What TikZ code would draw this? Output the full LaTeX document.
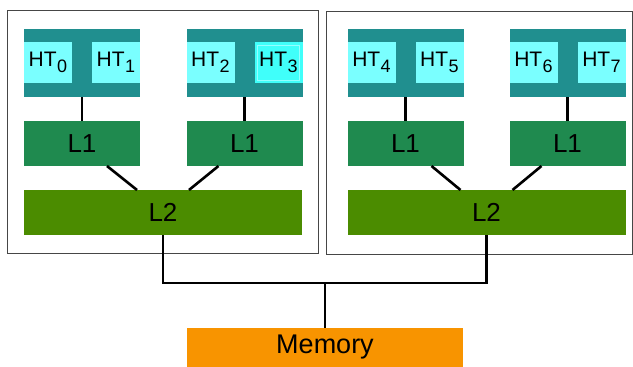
\documentclass[tikz,border=0pt]{standalone}
\usepackage{fontspec}
\setmainfont{Liberation Sans}
\usetikzlibrary{calc}

% colours of the cache hierarchy
\definecolor{coreteal}{RGB}{32,143,143}
\definecolor{htcyan}{RGB}{122,255,255}
\definecolor{htbright}{RGB}{64,255,250}
\definecolor{htedge}{RGB}{150,255,255}
\definecolor{lonegreen}{RGB}{31,138,79}
\definecolor{ltwogreen}{RGB}{75,140,0}
\definecolor{memorange}{RGB}{248,148,0}
\definecolor{framegray}{RGB}{70,70,70}

% hardware-thread label with a lowered index
\newcommand\htlabel[1]{HT\kern0.5pt\raisebox{-6pt}{\fontsize{18}{18}\selectfont #1}}

\tikzset{
  blk/.style={rectangle, inner sep=0pt, outer sep=0pt, draw=none},
  coregrp/.style={blk, fill=coreteal, minimum width=116pt, minimum height=68pt},
  htbox/.style={blk, fill=htcyan, minimum width=48pt, minimum height=41pt,
                font=\fontsize{21}{21}\selectfont},
  lone/.style={blk, fill=lonegreen, minimum width=116pt, minimum height=45pt,
               font=\fontsize{26}{26}\selectfont},
  ltwo/.style={blk, fill=ltwogreen, minimum width=278pt, minimum height=45pt,
               font=\fontsize{26}{26}\selectfont},
  membox/.style={blk, fill=memorange, minimum width=276pt, minimum height=39pt,
                 font=\fontsize{27}{27}\selectfont},
  wire/.style={line width=2.6pt, black},
  frame/.style={line width=0.9pt, framegray},
}

\begin{document}
\begin{tikzpicture}[x=1pt, y=-1pt]
  \useasboundingbox (0,0) rectangle (633,367);
  \fill[white] (0,0) rectangle (633,367);

  % processor packages
  \draw[frame] (7,10.5) rectangle (318.5,253.5);
  \draw[frame] (326.5,11) rectangle (632.5,254);

  % cores with their hardware threads
  \node[coregrp] (cA) at (82,63) {};
  \node[coregrp] (cB) at (244.5,63) {};
  \node[coregrp] (cC) at (405.5,63) {};
  \node[coregrp] (cD) at (567.5,63) {};

  \node[htbox, anchor=west] (ht0) at ([yshift=0.5]cA.west) {\htlabel{0}};
  \node[htbox, anchor=east] (ht1) at ([yshift=0.5]cA.east) {\htlabel{1}};
  \node[htbox, anchor=west] (ht2) at ([yshift=0.5]cB.west) {\htlabel{2}};
  \node[htbox, anchor=east, fill=htbright] (ht3) at ([yshift=0.5]cB.east) {\htlabel{3}};
  \node[htbox, anchor=west] (ht4) at ([yshift=0.5]cC.west) {\htlabel{4}};
  \node[htbox, anchor=east] (ht5) at ([yshift=0.5]cC.east) {\htlabel{5}};
  \node[htbox, anchor=west] (ht6) at ([yshift=0.5]cD.west) {\htlabel{6}};
  \node[htbox, anchor=east] (ht7) at ([yshift=0.5]cD.east) {\htlabel{7}};
  % selected thread outline
  \draw[htedge, line width=1pt]
    ([shift={(3,3)}]ht3.north west) rectangle ([shift={(-3,-3)}]ht3.south east);

  % private L1 caches
  \node[lone] (l1a) at (82,143.5) {L1};
  \node[lone] (l1b) at (244.5,143.5) {L1};
  \node[lone] (l1c) at (405.5,143.5) {L1};
  \node[lone] (l1d) at (567.5,143.5) {L1};

  % shared L2 caches
  \node[ltwo] (l2a) at (163,212.5) {L2};
  \node[ltwo] (l2b) at (486.5,212.5) {L2};

  % main memory
  \node[membox] (mem) at (325,347.5) {\raisebox{-3pt}{Memory}};

  % core to L1
  \draw[wire] (cA.south) -- (l1a.north);
  \draw[wire] (cB.south) -- (l1b.north);
  \draw[wire] (cC.south) -- (l1c.north);
  \draw[wire] (cD.south) -- (l1d.north);

  % L1 to L2
  \draw[wire] ([xshift=25]l1a.south) -- ([xshift=-26]l2a.north);
  \draw[wire] ([xshift=-26]l1b.south) -- ([xshift=26]l2a.north);
  \draw[wire] ([xshift=26]l1c.south) -- ([xshift=-26]l2b.north);
  \draw[wire] ([xshift=-26]l1d.south) -- ([xshift=26]l2b.north);

  % memory bus
  \coordinate (bus) at (325,283);
  \draw[wire] (l2a.south) |- (bus) -| (l2b.south);
  \draw[wire] (bus) -- (mem.north);
\end{tikzpicture}
\end{document}
